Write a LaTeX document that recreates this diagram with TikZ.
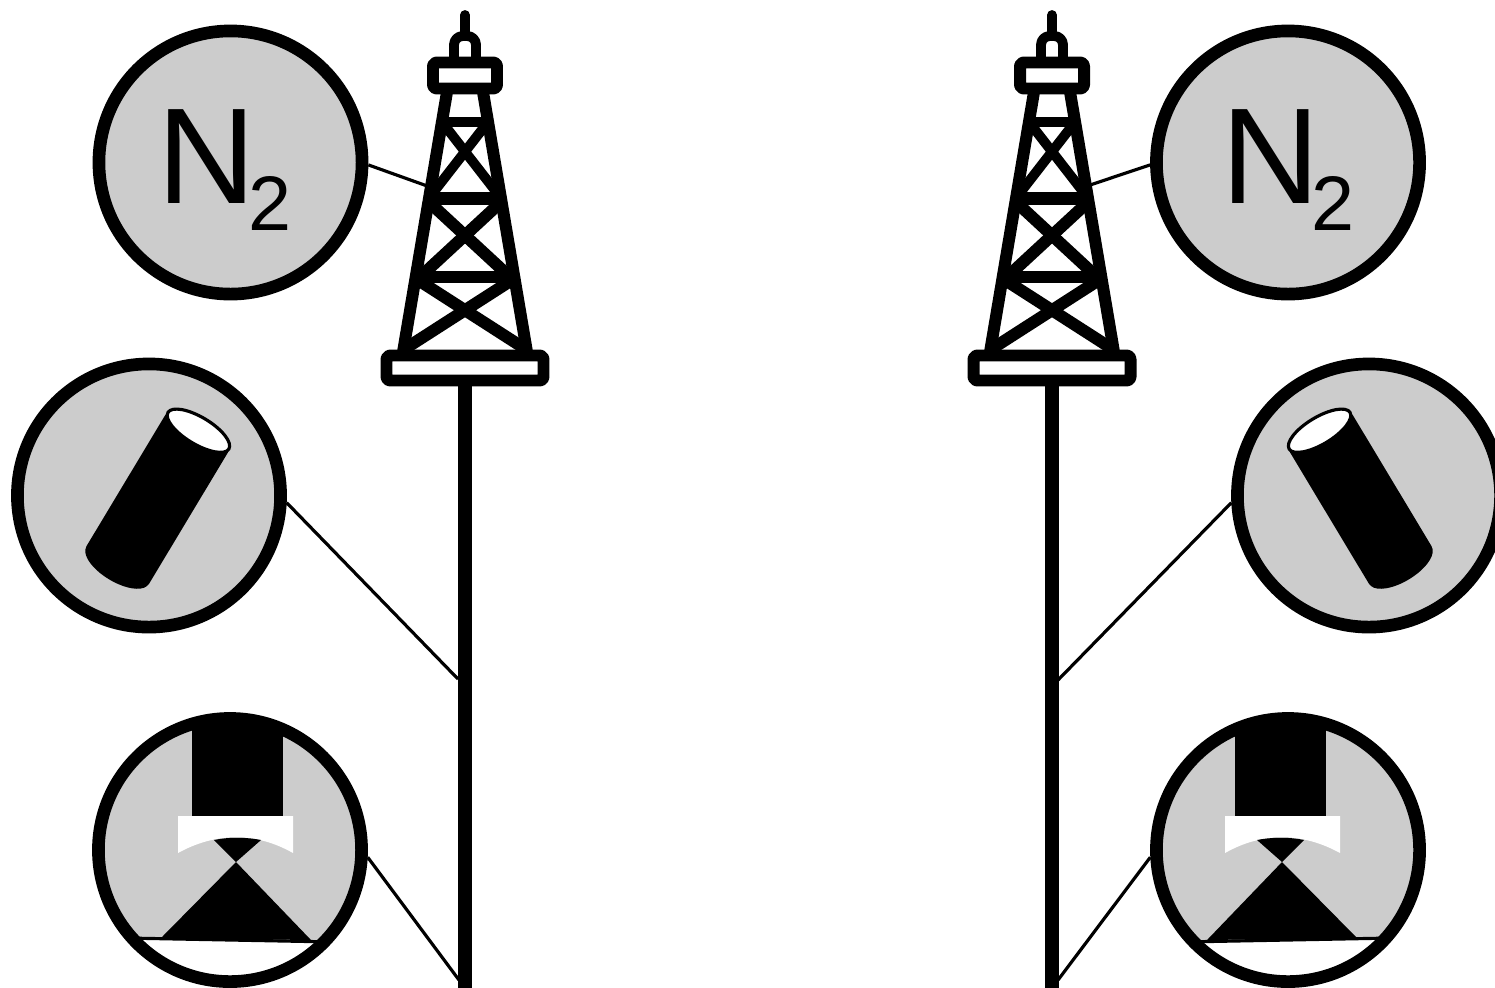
\documentclass[tikz,border=0pt]{standalone}
\usepackage{fontspec}
\setmainfont{Liberation Sans}
\definecolor{lensgray}{HTML}{CCCCCC}
\tikzset{
    towerline/.style={line width=3.4pt, line join=round},
    poleline/.style={line width=3.8pt},
    wire/.style={line width=0.9pt},
    lens/.style={circle, draw, line width=3.6pt, minimum size=2.63cm, inner sep=0pt},
    gaslens/.style={lens, fill=lensgray, font=\fontsize{38.8}{38.8}\selectfont, text height=31pt, text depth=7.7pt}
}
\newcommand{\gasname}{N\kern-2.3pt\raisebox{-7.7pt}{\fontsize{22}{22}\selectfont 2}}

\begin{document}
\begin{tikzpicture}[x=0.01cm, y=-0.01cm]
    \useasboundingbox (0,0) rectangle (1495,987);

    % Zylinder
    \foreach \cx/\s in {149/1, 1369/-1} {
        \fill[lensgray] (\cx,495.5) circle (134);
        \begin{scope}[shift={(\cx,495.5)}, xscale=\s, rotate=-31, shift={(9,-81)}]
            \fill[line join=round, rounded corners=1pt] (-36.5,0) -- (-36.5,160)
                .. controls (-22,177) and (22,177) .. (36.5,160) -- (36.5,0) -- cycle;
            \draw[fill=white, line width=0.9pt] (0,0) ellipse (35.5 and 13.5);
        \end{scope}
    }

    % Objektiv
    \foreach \cx/\s in {230/1, 1288/-1} {
        \begin{scope}
            \clip (\cx,850) circle (134);
            \fill[lensgray] (\cx,850) circle (134);
            \begin{scope}[shift={(\cx+6*\s,0)}, xscale=\s]
                \fill (-44,700) rectangle (47,816);
                \fill[white] (-58,816) -- (57,816) -- (57,853)
                    .. controls (20,832) and (-20,832) .. (-58,853) -- cycle;
                \fill (-22,840) .. controls (-8,837) and (10,837) .. (25,840) -- (0,862) -- cycle;
                \fill (0,862) -- (75,940) -- (-75,938) -- cycle;
                \fill[white] (-110,938) -- (100,942) -- (100,1000) -- (-110,1000) -- cycle;
                \draw[wire] (-110,938) -- (100,942);
            \end{scope}
        \end{scope}
    }

    % Linsen
    \node[gaslens] (gasL) at (230.5,162.5) {\gasname\kern3.4pt};
    \node[gaslens] (gasR) at (1288,162.5) {\gasname};
    \node[lens] (cylL) at (149,495.5) {};
    \node[lens] (cylR) at (1369,495.5) {};
    \node[lens] (objL) at (230,850) {};
    \node[lens] (objR) at (1288,850) {};

    % Anbindung an den Turm
    \coordinate (towerL) at (430,187);
    \coordinate (towerR) at (1090,185);
    \coordinate (poleLa) at (458,679);
    \coordinate (poleRa) at (1058,680);
    \coordinate (poleLb) at (459,980);
    \coordinate (poleRb) at (1058,980);
    \draw[wire] (gasL.-1) -- (towerL);
    \draw[wire] (gasR.181) -- (towerR);
    \draw[wire] (cylL.-3) -- (poleLa);
    \draw[wire] (cylR.183) -- (poleRa);
    \draw[wire] (objL.-3) -- (poleLb);
    \draw[wire] (objR.183) -- (poleRb);

    % Bohrturm
    \foreach \tx in {465,1052} {
        \begin{scope}[shift={(\tx,0)}, towerline]
            \draw[line width=2.8pt, line cap=round] (0,15) -- (0,36);
            \draw[line width=2.8pt, rounded corners=2.5pt] (-11,60) -- (-11,36) -- (11,36) -- (11,60);
            \draw[fill=white, rounded corners=1pt] (-32,62.5) rectangle (32,88.5);
            \draw (-18,92) -- (-62,352);
            \draw (18,92) -- (62,352);
            \draw[line width=2.8pt] (-23,122) -- (23,122);
            \draw[line width=3.7pt] (-36,198) -- (36,198);
            \draw (-49,277) -- (49,277);
            \draw[line width=2.8pt] (-23,122) -- (36,198);
            \draw[line width=2.8pt] (23,122) -- (-36,198);
            \draw (-35,203) -- (45,277);
            \draw (35,203) -- (-45,277);
            \draw (-47,280) -- (62,350);
            \draw (47,280) -- (-62,350);
            \draw[fill=white, line width=3.4pt, rounded corners=1pt] (-78.5,355.5) rectangle (78.5,380.5);
            \draw[poleline] (0,386) -- (0,990);
        \end{scope}
    }
\end{tikzpicture}
\end{document}
